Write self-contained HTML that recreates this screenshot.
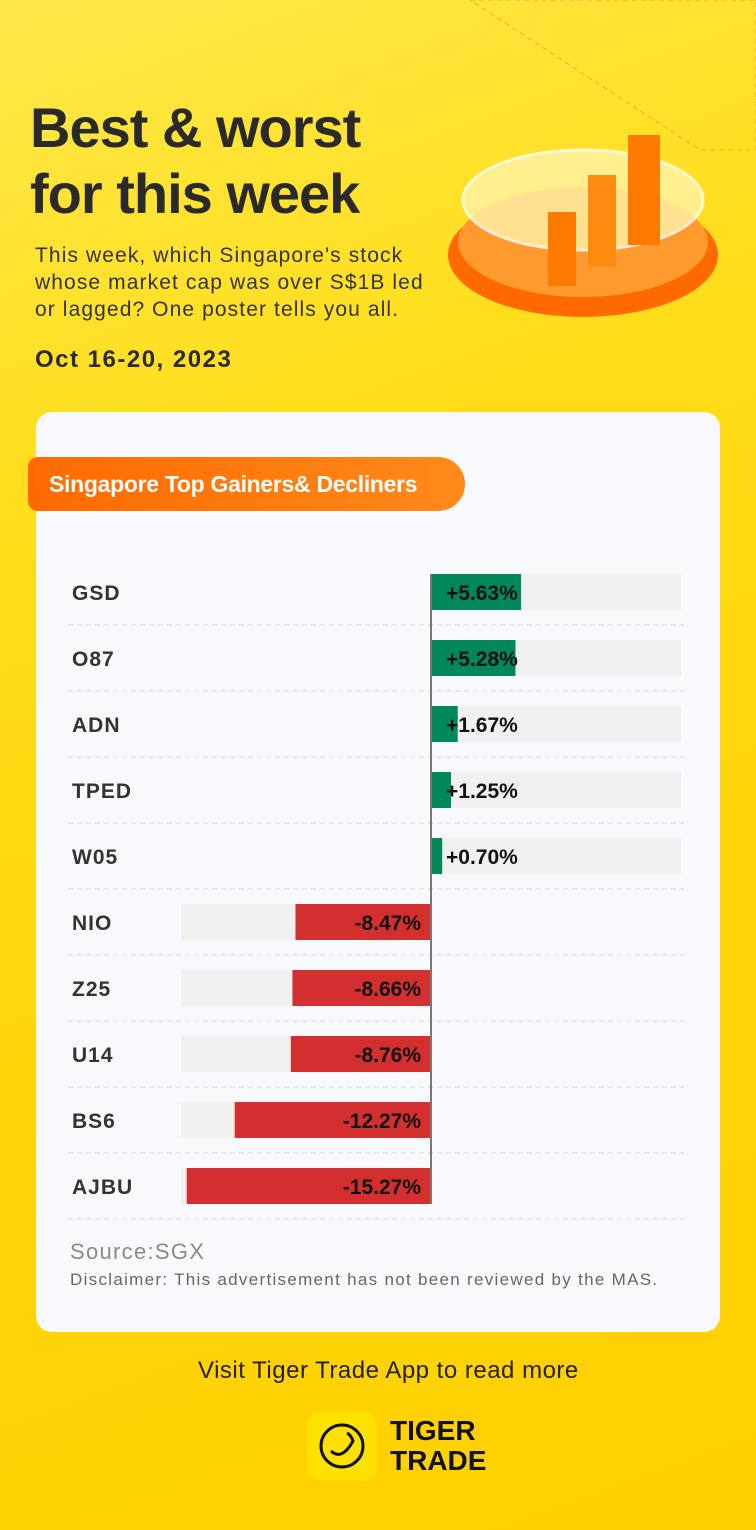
<!DOCTYPE html>
<html><head><meta charset="utf-8"><style>
body{margin:0;width:756px;height:1530px;overflow:hidden;font-family:"Liberation Sans",sans-serif;}
#bg{position:absolute;left:0;top:0;width:756px;height:1530px;background:linear-gradient(160deg,#ffe94a 0%,#ffdd1a 30%,#ffd60a 60%,#ffcf00 100%);}
.t{position:absolute;color:#2a2a2a;}
</style></head><body>
<div id="bg"></div>
<svg style="position:absolute;left:0;top:0" width="756" height="420">
<polygon points="470,0 756,0 756,150 700,150" fill="none" stroke="#f5a623" stroke-dasharray="5,4"/>
<ellipse cx="583" cy="255" rx="135" ry="62" fill="#ff6a00"/>
<ellipse cx="583" cy="242" rx="125" ry="55" fill="#ff9a2e"/>
<ellipse cx="583" cy="200" rx="120" ry="50" fill="#fff3a8" opacity="0.8" stroke="#fff" stroke-width="3"/>
<rect x="548" y="212" width="28" height="74" fill="#ff7a00"/>
<rect x="588" y="175" width="28" height="92" fill="#ff8a10"/>
<rect x="628" y="135" width="32" height="110" fill="#ff7a00"/>
</svg>
<div class="t" style="left:30px;top:95px;font-size:56px;font-weight:bold;line-height:66px;letter-spacing:-1px">Best &amp; worst<br>for this week</div>
<div class="t" style="left:35px;top:242px;font-size:21px;line-height:27px;color:#333;letter-spacing:1.1px">This week, which Singapore's stock<br>whose market cap was over S$1B led<br>or lagged? One poster tells you all.</div>
<div class="t" style="left:35px;top:346px;font-size:24px;font-weight:bold;letter-spacing:1.5px">Oct 16-20, 2023</div>
<div style="position:absolute;left:36px;top:412px;width:684px;height:920px;background:#f8f9fc;border-radius:16px"></div>
<div style="position:absolute;left:28px;top:457px;width:437px;height:54px;background:linear-gradient(90deg,#ff6a00,#ff8a1a);border-radius:10px 27px 27px 10px;color:#fff;font-size:23px;font-weight:bold;line-height:54px;text-indent:21px;letter-spacing:-0.3px">Singapore Top Gainers&amp; Decliners</div>
<svg id="chart" style="position:absolute;left:0;top:0" width="756" height="1530"></svg>
<div class="t" style="left:70px;top:1239px;font-size:22px;color:#8a8a8a;letter-spacing:1.3px">Source:SGX</div>
<div class="t" style="left:70px;top:1270px;font-size:17px;color:#666;letter-spacing:1.3px">Disclaimer: This advertisement has not been reviewed by the MAS.</div>
<div class="t" style="left:198px;top:1357px;font-size:24px;color:#222;letter-spacing:0.5px">Visit Tiger Trade App to read more</div>
<svg style="position:absolute;left:307px;top:1411px" width="70" height="70">
<rect x="0" y="0" width="70" height="70" rx="14" fill="#ffe100"/>
<circle cx="35" cy="35" r="21" fill="none" stroke="#111" stroke-width="3"/>
<path d="M24 40 Q35 50 46 30 Q44 24 40 22" fill="none" stroke="#111" stroke-width="3"/>
</svg>
<div class="t" style="left:390px;top:1416px;font-size:28px;font-weight:bold;line-height:30px;color:#111">TIGER<br>TRADE</div>
<script>
const tickers=["GSD","O87","ADN","TPED","W05","NIO","Z25","U14","BS6","AJBU"];
const changes=[5.63,5.28,1.67,1.25,0.70,-8.47,-8.66,-8.76,-12.27,-15.27];
const labels=["+5.63%","+5.28%","+1.67%","+1.25%","+0.70%","-8.47%","-8.66%","-8.76%","-12.27%","-15.27%"];
const svg=document.getElementById('chart');const NS='http://www.w3.org/2000/svg';
const X0=431,SC=16,TOP=559,ROW=66,BH=36;
const x=v=>X0+v*SC, y=i=>TOP+i*ROW;
function mk(t,a){const e=document.createElementNS(NS,t);for(const k in a)e.setAttribute(k,a[k]);svg.appendChild(e);return e;}
tickers.forEach((tk,i)=>{
 const cy=y(i)+33,v=changes[i];
 let e=mk('line',{x1:68,x2:684,y1:y(i)+66,y2:y(i)+66,stroke:'#ddd','stroke-dasharray':'5,4'});
 
 
 e=mk('rect',{x:v>=0?X0:X0-250,y:cy-18,width:250,height:BH,fill:'#f0f0ee'});
 
 
 e=mk('rect',{x:Math.min(X0,x(v)),y:cy-18,width:Math.abs(x(v)-X0),height:BH,fill:v>=0?'#00875a':'#d32f2f'});
 
 
 e=mk('text',{x:72,y:cy+8,'font-size':21,'font-weight':'bold',fill:'#333','font-family':'Liberation Sans','letter-spacing':1});
 e.textContent=tk;
 
 
 e=mk('text',{x:v>=0?X0+15:X0-10,y:cy+8,'font-size':21,'font-weight':'bold',fill:'#111','font-family':'Liberation Sans','text-anchor':v>=0?'start':'end'});
 e.textContent=labels[i];
 
 
});
const ax=mk('line',{x1:X0,x2:X0,y1:TOP+15,y2:y(tickers.length-1)+51,stroke:'#777','stroke-width':2});


</script>
</body></html>
